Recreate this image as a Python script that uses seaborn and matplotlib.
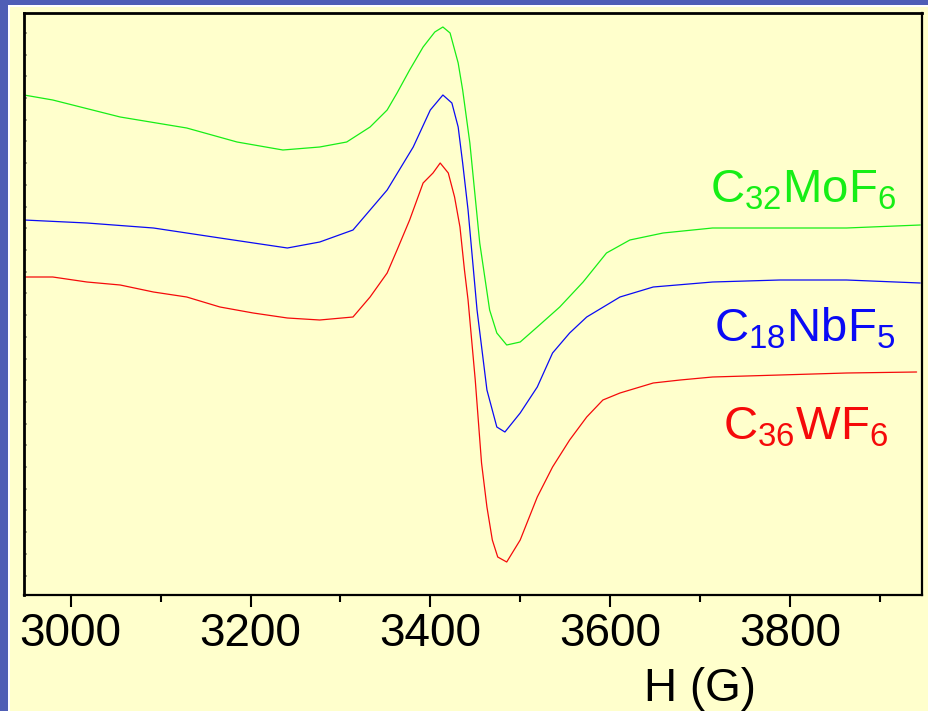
import numpy as np
import pandas as pd
import matplotlib
matplotlib.use("Agg")
import matplotlib.pyplot as plt
from matplotlib.patches import Rectangle
import seaborn as sns

# ---- data (field in G, signal in arbitrary units, offset per sample) ----
green_h = [2948, 2980, 3055, 3129, 3185, 3236, 3277, 3307, 3333, 3352, 3363, 3377,
           3392, 3405, 3414, 3422, 3431, 3436, 3444, 3455, 3466, 3474, 3485, 3500,
           3519, 3544, 3570, 3596, 3622, 3659, 3714, 3789, 3863, 3945]
green_v = [500, 495, 478, 467, 453, 445, 448, 453, 468, 485, 502, 525,
           548, 563, 568, 562, 532, 505, 452, 352, 285, 262, 250, 253,
           268, 288, 313, 342, 355, 362, 367, 367, 367, 370]

blue_h = [2948, 3018, 3092, 3166, 3241, 3277, 3314, 3352, 3381, 3400, 3414, 3424,
          3431, 3436, 3442, 3452, 3463, 3474, 3483, 3500, 3519, 3536, 3555, 3574,
          3611, 3648, 3714, 3789, 3863, 3945]
blue_v = [375, 372, 367, 357, 347, 353, 365, 405, 448, 485, 500, 492,
          468, 432, 385, 285, 205, 168, 163, 182, 208, 242, 262, 278,
          298, 308, 313, 315, 315, 312]

red_h = [2948, 2980, 3018, 3055, 3092, 3129, 3166, 3203, 3241, 3277, 3314, 3333,
         3352, 3363, 3377, 3392, 3403, 3411, 3420, 3427, 3433, 3438, 3442, 3450,
         3457, 3463, 3469, 3475, 3485, 3500, 3519, 3536, 3555, 3574, 3592, 3611,
         3648, 3678, 3714, 3789, 3863, 3941]
red_v = [318, 318, 313, 310, 303, 298, 288, 282, 277, 275, 278, 298,
         322, 345, 375, 412, 422, 432, 422, 398, 368, 325, 295, 215,
         132, 88, 55, 38, 33, 55, 98, 128, 155, 178, 195, 202,
         212, 215, 218, 220, 222, 223]

x_ticks = [3000, 3200, 3400, 3600, 3800]
x_label = "H (G)"
labels = ["C$_{32}$MoF$_6$", "C$_{18}$NbF$_5$", "C$_{36}$WF$_6$"]

GREEN = "#16EE16"
BLUE = "#0A0AF5"
RED = "#F50A0A"
YELLOW = "#FFFFCC"
FRAME = "#4F5EB6"

sns.set_style("ticks")
plt.rcParams["font.family"] = ["Liberation Sans", "DejaVu Sans"]
plt.rcParams["mathtext.default"] = "regular"
plt.rcParams["text.color"] = "black"
plt.rcParams["xtick.color"] = "black"
plt.rcParams["xtick.labelcolor"] = "black"

fig = plt.figure(figsize=(9.29, 7.11), dpi=100)
fig.patch.set_facecolor(YELLOW)
# blue frame strips (left and top) with a thin white edge
fig.add_artist(Rectangle((0, 0), 8 / 929, 1, transform=fig.transFigure,
                         facecolor=FRAME, edgecolor="none", zorder=-5))
fig.add_artist(Rectangle((0, 1 - 5 / 711), 1, 5 / 711, transform=fig.transFigure,
                         facecolor=FRAME, edgecolor="none", zorder=-5))
fig.add_artist(Rectangle((8 / 929, 0), 2 / 929, 1 - 5 / 711, transform=fig.transFigure,
                         facecolor="white", edgecolor="none", zorder=-5))
fig.add_artist(Rectangle((8 / 929, 1 - 7 / 711), 1, 2 / 711, transform=fig.transFigure,
                         facecolor="white", edgecolor="none", zorder=-5))

ax = fig.add_axes([24 / 929, 1 - 595 / 711, (922 - 24) / 929, (595 - 13) / 711])
ax.set_facecolor(YELLOW)

df = pd.concat([
    pd.DataFrame({"H": green_h, "v": green_v, "s": "g"}),
    pd.DataFrame({"H": blue_h, "v": blue_v, "s": "b"}),
    pd.DataFrame({"H": red_h, "v": red_v, "s": "r"}),
])
sns.lineplot(data=df, x="H", y="v", hue="s", palette={"g": GREEN, "b": BLUE, "r": RED},
             linewidth=0.9, ax=ax, legend=False, sort=False, estimator=None)

ax.set_xlim(2948, 3947)
ax.set_ylim(0, 582)
ax.set_xticks(x_ticks)
ax.set_xticks([3100, 3300, 3500, 3700, 3900], minor=True)
ax.set_xticklabels([str(t) for t in x_ticks], fontsize=33)
ax.tick_params(axis="x", which="major", length=8.5, width=1.5, pad=4, color="black",
               labelcolor="black")
ax.tick_params(axis="x", which="minor", length=5, width=1.5, color="black")
ax.set_yticks(np.arange(19.5, 582, 21.7))
ax.set_yticklabels([])
ax.tick_params(axis="y", which="major", direction="in", length=2.5, width=1.2,
               color="#9a9a80")
ax.set_xlabel("")
ax.set_ylabel("")
for side in ["left", "top"]:
    ax.spines[side].set_linewidth(2.0)
for side in ["right", "bottom"]:
    ax.spines[side].set_linewidth(1.6)
for s in ax.spines.values():
    s.set_color("black")

ax.text(0.764, 0.674, labels[0], transform=ax.transAxes, color=GREEN,
        fontsize=34, ha="left", va="baseline")
ax.text(0.768, 0.436, labels[1], transform=ax.transAxes, color=BLUE,
        fontsize=34, ha="left", va="baseline")
ax.text(0.778, 0.267, labels[2], transform=ax.transAxes, color=RED,
        fontsize=34, ha="left", va="baseline")

fig.text(700 / 929, 10 / 711, x_label, fontsize=33, ha="center", va="baseline",
         color="black")

fig.savefig("out.png", dpi=100, facecolor=fig.get_facecolor())
